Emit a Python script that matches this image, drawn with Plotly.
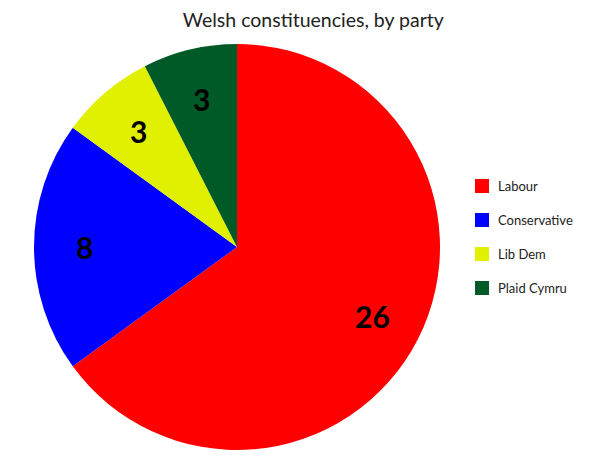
import math
import plotly.graph_objects as go

parties = ["Labour", "Conservative", "Lib Dem", "Plaid Cymru"]
seats = [26, 8, 3, 3]
colors = ["#ff0000", "#0000ff", "#e0f000", "#005a28"]
title_text = "Welsh constituencies, by party"

W, H = 600, 463
OFF = 8  # page body offset
ml, mr, mt, mb = 34 - OFF, 0, 44 - OFF, 13 + OFF
pw = W - ml - mr
ph = H - mt - mb
R = ph / 2


def to_paper(X, Y):
    """target screen pixel -> paper coords"""
    fx, fy = X - OFF, Y - OFF
    return (fx - ml) / pw, 1 - (fy - mt) / ph


fig = go.Figure(go.Pie(
    labels=parties,
    values=seats,
    marker=dict(colors=colors, line=dict(width=0)),
    sort=False,
    direction="clockwise",
    rotation=0,
    textinfo="none",
    domain=dict(x=[0, ph / pw], y=[0, 1]),
    showlegend=False,
    hoverinfo="label+value+percent",
))

# slice value labels at 0.75 R along each slice bisector
total = sum(seats)
cx, cy = ml + R, mt + R  # figure pixels
cum = 0
for v in seats:
    mid = (cum + v / 2) / total * 2 * math.pi
    cum += v
    px = cx + 0.75 * R * math.sin(mid)
    py = cy - 0.75 * R * math.cos(mid)
    fig.add_annotation(xref="paper", yref="paper",
                       x=(px - ml) / pw, y=1 - (py - mt) / ph,
                       text=str(v), showarrow=False,
                       xanchor="center", yanchor="middle",
                       font=dict(family="Lato", size=30, color="#000000", weight="bold"))

# manual legend
sq = 14
for i, (p, c) in enumerate(zip(parties, colors)):
    yc = 186 + i * 34
    xa, ya = to_paper(475, yc)
    xb, yb = to_paper(475 + sq, yc + sq / 2)
    fig.add_shape(type="rect", xref="paper", yref="paper",
                  x0=xa, x1=xb, y0=yb, y1=ya + (ya - yb),
                  fillcolor=c, line=dict(width=0))
    xt, yt = to_paper(496, yc)
    fig.add_annotation(xref="paper", yref="paper", x=xt, y=yt,
                       text=p, showarrow=False, xanchor="left", yanchor="middle",
                       font=dict(family="Lato", size=13, color="#222222"))

fig.update_layout(
    width=W, height=H,
    margin=dict(l=ml, r=mr, t=mt, b=mb),
    paper_bgcolor="white",
    title=dict(text=title_text, x=(300 - OFF) / W, xref="paper", xanchor="center",
               y=1 - (20 - OFF) / H, yanchor="middle",
               font=dict(family="Lato", size=19.5, color="#222222")),
)

fig.write_html("out.html")
